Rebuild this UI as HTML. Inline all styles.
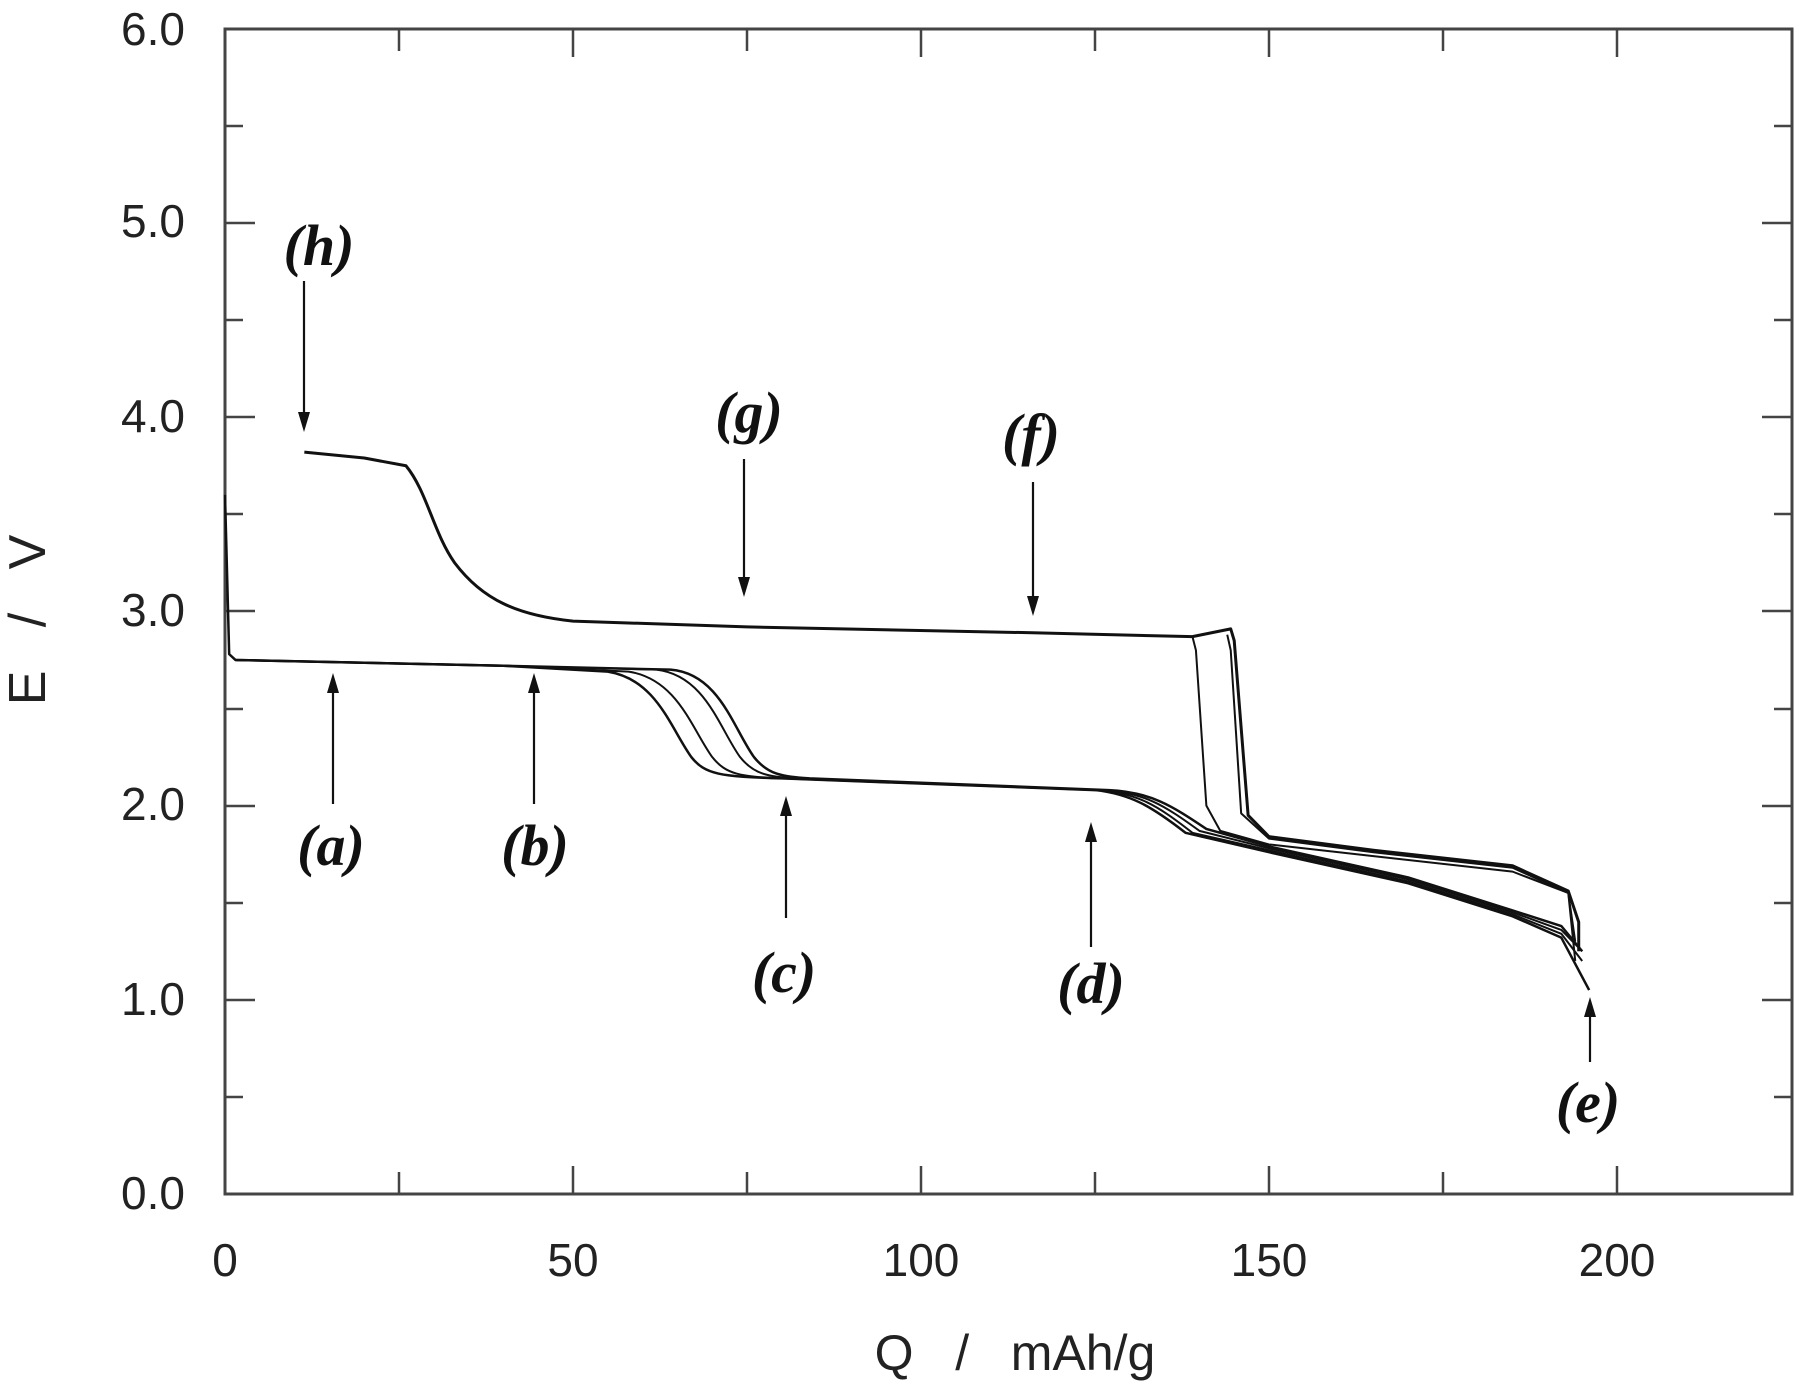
<!DOCTYPE html>
<html><head><meta charset="utf-8"><style>
html,body{margin:0;padding:0;background:#fff;}
svg{display:block}
.t{font-family:"Liberation Sans",sans-serif;font-size:46px;fill:#222}
.l{font-family:"Liberation Serif",serif;font-style:italic;font-weight:bold;font-size:58px;fill:#111}
</style></head><body>
<svg width="1800" height="1387" viewBox="0 0 1800 1387" xmlns="http://www.w3.org/2000/svg">
<rect x="225" y="29" width="1567" height="1165" fill="none" stroke="#444" stroke-width="3"/>
<g stroke="#444" stroke-width="2.5">
<path d="M225,1194v-14M399,1194v-22M573,1194v-28M747,1194v-22M921,1194v-28M1095,1194v-22M1269,1194v-28M1443,1194v-22M1617,1194v-28"/>
<path d="M399,29v22M573,29v28M747,29v22M921,29v28M1095,29v22M1269,29v28M1443,29v22M1617,29v28"/>
<path d="M225,1097h18M225,1000h30M225,903h18M225,806h30M225,709h18M225,611h30M225,514h18M225,417h30M225,320h18M225,223h30M225,126h18"/>
<path d="M1792,1097h-18M1792,1000h-30M1792,903h-18M1792,806h-30M1792,709h-18M1792,611h-30M1792,514h-18M1792,417h-30M1792,320h-18M1792,223h-30M1792,126h-18"/>
</g>
<g class="t" text-anchor="end">
<text x="185" y="45">6.0</text><text x="185" y="237">5.0</text><text x="185" y="432">4.0</text><text x="185" y="626">3.0</text><text x="185" y="820">2.0</text><text x="185" y="1015">1.0</text><text x="185" y="1209">0.0</text>
</g>
<g class="t" text-anchor="middle">
<text x="225" y="1276">0</text><text x="573" y="1276">50</text><text x="921" y="1276">100</text><text x="1269" y="1276">150</text><text x="1617" y="1276">200</text>
<text x="1015" y="1370" style="font-size:50px" xml:space="preserve">Q   /   mAh/g</text>
<text transform="translate(45,620) rotate(-90)" style="font-size:52px" xml:space="preserve">E   /   V</text>
</g>
<g transform="translate(225,1194) scale(6.96,-194.2)" fill="none" stroke="#111" stroke-linejoin="round">
<path vector-effect="non-scaling-stroke" stroke-width="3" d="M11.4,3.82 L20,3.79 L26,3.75 C29,3.62 30,3.4 33,3.25 C37,3.06 42,2.98 50,2.95 L75,2.92 L116,2.89 L139,2.87 L144.5,2.91 L145,2.85 L147,1.95 L150,1.84 L165,1.77 L185,1.69 L193,1.56 L194.5,1.4 L194.5,1.25"/>
<path vector-effect="non-scaling-stroke" stroke-width="2" d="M139,2.87 L139.5,2.8 L141,2.0 L143,1.87 L150,1.8 L165,1.74 L185,1.66 L193,1.55 L194,1.3"/>
<path vector-effect="non-scaling-stroke" stroke-width="2" d="M144,2.88 L144.5,2.8 L146,1.96 L150,1.83 L165,1.76 L185,1.68 L193,1.55 L194,1.2"/>
<path vector-effect="non-scaling-stroke" stroke-width="2.5" d="M0,3.6 L0.6,2.78 L1.5,2.75 L40,2.72 L55,2.69 C62,2.65 64,2.4 67,2.25 C69,2.16 71,2.15 80,2.14 L125,2.08 C130,2.06 133,2.0 138,1.86 L150,1.76 L170,1.6 L185,1.43 L192,1.32 L196,1.05"/>
<path vector-effect="non-scaling-stroke" stroke-width="2" d="M1.5,2.75 L40,2.72 L58,2.69 C65,2.65 67,2.4 70,2.25 C72,2.16 74,2.15 80,2.14 L125,2.08 C131,2.07 134,2.0 139,1.86 L150,1.77 L170,1.61 L185,1.44 L192,1.34 L195,1.2"/>
<path vector-effect="non-scaling-stroke" stroke-width="2" d="M1.5,2.75 L40,2.72 L62,2.7 C69,2.67 71,2.4 74,2.25 C76,2.16 78,2.15 82,2.14 L126,2.08 C132,2.07 135,2.0 140,1.87 L150,1.78 L170,1.62 L185,1.45 L192,1.36 L195,1.25"/>
<path vector-effect="non-scaling-stroke" stroke-width="2.5" d="M1.5,2.75 L40,2.72 L64,2.7 C71,2.68 73,2.4 76,2.25 C78,2.16 80,2.15 84,2.14 L127,2.08 C133,2.07 136,2.0 141,1.88 L150,1.79 L170,1.63 L185,1.46 L192,1.38 L195,1.25"/>
</g>
<g stroke="#111" stroke-width="2.2">
<line x1="304" y1="281" x2="304" y2="415"/>
<line x1="744" y1="459" x2="744" y2="580"/>
<line x1="1033" y1="482" x2="1033" y2="599"/>
<line x1="333" y1="804" x2="333" y2="690"/>
<line x1="534" y1="804" x2="534" y2="690"/>
<line x1="786" y1="918" x2="786" y2="813"/>
<line x1="1091" y1="947" x2="1091" y2="839"/>
<line x1="1590" y1="1062" x2="1590" y2="1014"/>
</g>
<g fill="#111">
<polygon points="298,412 310,412 304,432"/>
<polygon points="738,577 750,577 744,597"/>
<polygon points="1027,596 1039,596 1033,616"/>
<polygon points="327,693 339,693 333,673"/>
<polygon points="528,693 540,693 534,673"/>
<polygon points="780,816 792,816 786,796"/>
<polygon points="1085,842 1097,842 1091,822"/>
<polygon points="1584,1017 1596,1017 1590,997"/>
</g>
<g class="l" text-anchor="middle">
<text x="319" y="265">(h)</text>
<text x="749" y="432">(g)</text>
<text x="1031" y="454">(f)</text>
<text x="331" y="865">(a)</text>
<text x="535" y="865">(b)</text>
<text x="784" y="992">(c)</text>
<text x="1091" y="1003">(d)</text>
<text x="1588" y="1122">(e)</text>
</g>
</svg>
</body></html>
